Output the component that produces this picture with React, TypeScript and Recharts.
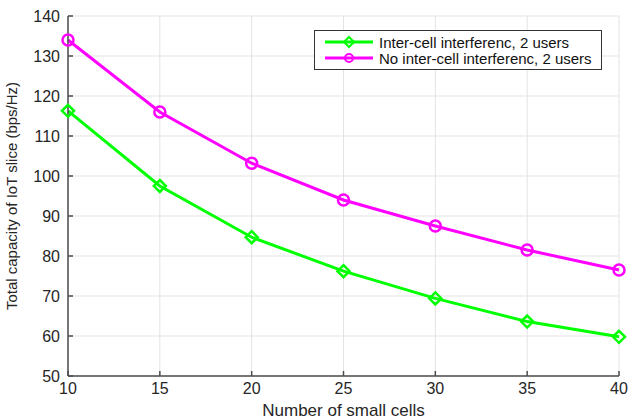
import { LineChart, Line, XAxis, YAxis, CartesianGrid } from 'recharts'

const cells = [10, 15, 20, 25, 30, 35, 40]
const withInterference = [116.3, 97.5, 84.7, 76.2, 69.4, 63.6, 59.8]
const noInterference = [134, 116, 103.2, 94, 87.5, 81.5, 76.5]
const xTicks = [10, 15, 20, 25, 30, 35, 40]
const yTicks = [50, 60, 70, 80, 90, 100, 110, 120, 130, 140]

const GREEN = '#00ff00'
const MAGENTA = '#ff00ff'
const AXIS = '#4d4d4d'
const FONT = '"Liberation Sans", Arial, sans-serif'

const data = cells.map((c, i) => ({
  cells: c,
  inter: withInterference[i],
  nointer: noInterference[i],
}))

function Diamond(props: any) {
  const { cx, cy, key } = props
  const s = 6
  return (
    <polygon
      key={key}
      points={`${cx},${cy - s} ${cx + s},${cy} ${cx},${cy + s} ${cx - s},${cy}`}
      fill="none"
      stroke={GREEN}
      strokeWidth={2.5}
    />
  )
}

function Ring(props: any) {
  const { cx, cy, key } = props
  return <circle key={key} cx={cx} cy={cy} r={5.5} fill="none" stroke={MAGENTA} strokeWidth={2.5} />
}

function XLabel(props: any) {
  const vb = props.viewBox ?? { x: 68, y: 376, width: 551, height: 43 }
  return (
    <text
      x={vb.x + vb.width / 2}
      y={vb.y + vb.height - 3}
      textAnchor="middle"
      fontSize={17}
      fill="#262626"
      fontFamily={FONT}
    >
      Number of small cells
    </text>
  )
}

function LegendBox() {
  const row = (color: string, marker: 'd' | 'o', label: string) => (
    <div style={{ display: 'flex', alignItems: 'center', height: 16 }}>
      <svg width={52} height={14} style={{ marginRight: 4 }}>
        <line x1={2} y1={7} x2={50} y2={7} stroke={color} strokeWidth={3} />
        {marker === 'd'
          ? <polygon points="26,2 31,7 26,12 21,7" fill="none" stroke={color} strokeWidth={2} />
          : <circle cx={26} cy={7} r={4} fill="none" stroke={color} strokeWidth={2} />}
      </svg>
      <span>{label}</span>
    </div>
  )
  return (
    <div style={{
      position: 'absolute', left: 314, top: 30, width: 288, height: 40,
      border: '1px solid #333', background: '#fff', padding: '3px 4px 3px 8px',
      fontFamily: FONT, fontSize: 15, color: '#111', boxSizing: 'border-box',
    }}>
      {row(GREEN, 'd', 'Inter-cell interferenc, 2 users')}
      {row(MAGENTA, 'o', 'No inter-cell interferenc, 2 users')}
    </div>
  )
}

export default function App() {
  const tickStyle = { fontSize: 16, fill: '#262626', fontFamily: FONT }
  return (
    <div style={{ position: 'absolute', left: 0, top: 0, width: 628, height: 419, background: '#fff' }}>
      <LineChart width={628} height={419} data={data} margin={{ top: 16, right: 9, left: 0, bottom: 0 }}>
        <CartesianGrid stroke="#e3e3e3" strokeWidth={1} />
        <XAxis
          dataKey="cells"
          type="number"
          domain={[10, 40]}
          ticks={xTicks}
          height={43}
          stroke={AXIS}
          strokeWidth={1.5}
          tickSize={-5}
          tick={{ ...tickStyle, dy: 10 }}
          label={<XLabel />}
        />
        <XAxis xAxisId="top" orientation="top" type="number" domain={[10, 40]} ticks={xTicks} height={0} stroke={AXIS} strokeWidth={1.5} tick={false} tickSize={-5} />
        <YAxis
          type="number"
          domain={[50, 140]}
          ticks={yTicks}
          width={68}
          stroke={AXIS}
          strokeWidth={1.5}
          tickSize={-5}
          tick={{ ...tickStyle, dx: -11 }}
          label={{ value: 'Total capacity of IoT slice (bps/Hz)', angle: -90, position: 'insideLeft', offset: 12, style: { textAnchor: 'middle', fontSize: 15, fill: '#262626', fontFamily: FONT } }}
        />
        <YAxis yAxisId="right" orientation="right" type="number" domain={[50, 140]} ticks={yTicks} width={0} stroke={AXIS} strokeWidth={1.5} tick={false} tickSize={-5} />
        <Line dataKey="inter" stroke={GREEN} strokeWidth={3} dot={Diamond} isAnimationActive={false} />
        <Line dataKey="nointer" stroke={MAGENTA} strokeWidth={3} dot={Ring} isAnimationActive={false} />
      </LineChart>
      <LegendBox />
    </div>
  )
}
